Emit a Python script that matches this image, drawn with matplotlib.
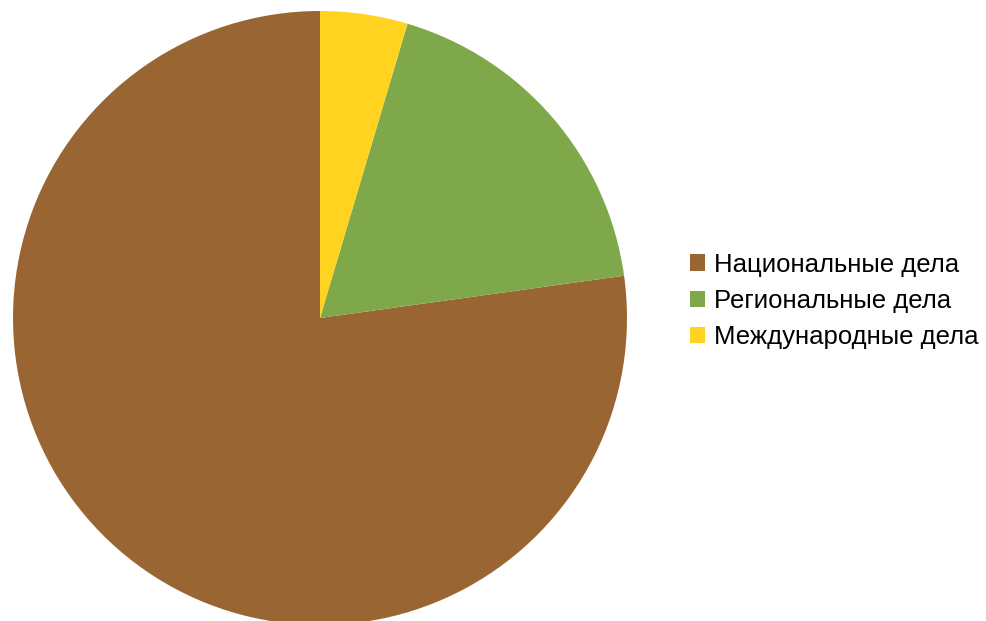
import matplotlib.pyplot as plt

labels = ['Национальные дела', 'Региональные дела', 'Международные дела']
values = [77.2, 18.2, 4.6]
colors = ['#996633', '#7EA84A', '#FFD320']

plt.rcParams['font.family'] = ['Liberation Sans', 'DejaVu Sans']

fig = plt.figure(figsize=(9.87, 6.21), dpi=100)
ax = fig.add_axes([0, 0, 1, 1])

wedges, _ = ax.pie(values, colors=colors, startangle=90, counterclock=True,
                   wedgeprops=dict(linewidth=0))

# pie centre at (320, 318) px from top-left, radius 307 px
r = 307.0
ax.set_aspect('auto')
ax.set_xlim(-320 / r, (987 - 320) / r)
ax.set_ylim(-(621 - 318) / r, 318 / r)
ax.axis('off')

leg = fig.legend(wedges, labels, loc='center left', bbox_to_anchor=(690 / 987, 1 - 301 / 621),
                 frameon=False, fontsize=18.5, handlelength=0.6, handleheight=0.6,
                 handletextpad=0.35, labelspacing=0.48, borderpad=0, borderaxespad=0)

fig.savefig('out.png', dpi=100)
